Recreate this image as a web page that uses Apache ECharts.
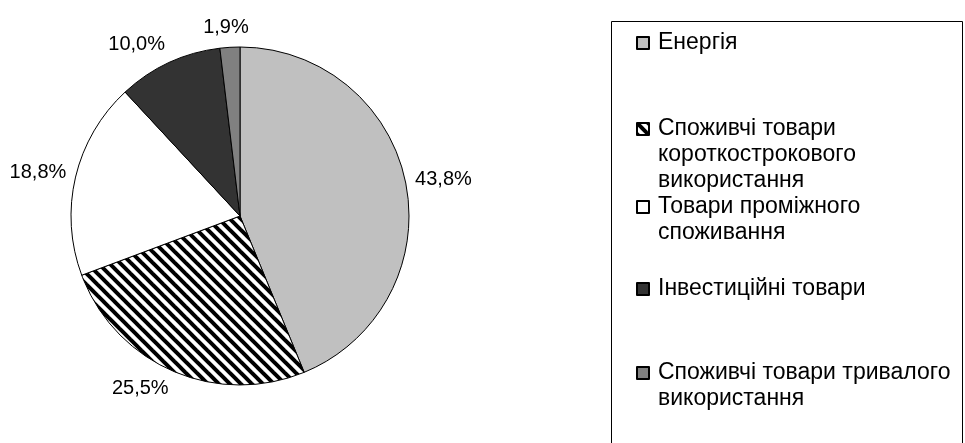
<!DOCTYPE html>
<html>
<head>
<meta charset="utf-8">
<script src="https://cdn.jsdelivr.net/npm/echarts@6/dist/echarts.min.js"></script>
<style>
html,body{margin:0;padding:0;background:#fff;}
#chart{width:965px;height:443px;}
</style>
</head>
<body>
<div id="chart"></div>
<script>
// ---- data ----
var categories = [
  'Енергія',
  'Споживчі товари короткострокового використання',
  'Товари проміжного споживання',
  'Інвестиційні товари',
  'Споживчі товари тривалого використання'
];
var shares = [43.8, 25.5, 18.8, 10.0, 1.9];
var legendLines = [
  ['Енергія'],
  ['Споживчі товари', 'короткострокового', 'використання'],
  ['Товари проміжного', 'споживання'],
  ['Інвестиційні товари'],
  ['Споживчі товари тривалого', 'використання']
];

// ---- styles ----
function makeHatch() {
  var T = 11;
  var c = document.createElement('canvas');
  c.width = T; c.height = T;
  var g = c.getContext('2d');
  g.fillStyle = '#fff';
  g.fillRect(0, 0, T, T);
  g.strokeStyle = '#000';
  g.lineWidth = 4;
  for (var k = -1; k <= 1; k++) {
    g.beginPath();
    g.moveTo(k * T - 2, -2);
    g.lineTo(k * T + T + 2, T + 2);
    g.stroke();
  }
  return c;
}
var fills = ['#c0c0c0', { image: makeHatch(), repeat: 'repeat' }, '#ffffff', '#333333', '#808080'];
var FONT = 'Liberation Sans, Arial, sans-serif';
var LH = 26;
var legendCenters = [43, 129, 207, 289, 373];
var LABEL_GAP = 9.5;

var seriesData = categories.map(function (name, i) {
  return { name: name, value: shares[i], itemStyle: { color: fills[i] } };
});

var legends = categories.map(function (name, i) {
  var n = legendLines[i].length;
  var pad = [];
  for (var j = 0; j < n - 1; j++) pad.push('');
  var total = 2 * n - 1;
  return {
    data: [name],
    orient: 'vertical',
    left: 636,
    top: legendCenters[i] - total * LH / 2,
    padding: 0,
    itemWidth: 12,
    itemHeight: 12,
    itemGap: 0,
    icon: 'rect',
    selectedMode: false,
    formatter: function () { return pad.concat(legendLines[i]).join('\n'); },
    textStyle: { fontSize: 23, lineHeight: LH, color: '#000', fontFamily: FONT, padding: [0, 0, 0, 4] }
  };
});

var chart = echarts.init(document.getElementById('chart'), null, { renderer: 'canvas' });

function placeLabel(params) {
  var data = chart.getModel().getSeriesByIndex(params.seriesIndex).getData();
  var L = data.getItemLayout(params.dataIndex);
  var mid = (L.startAngle + L.endAngle) / 2;
  var ux = Math.cos(mid), uy = Math.sin(mid);
  var px = L.cx + ux * (L.r + LABEL_GAP);
  var py = L.cy + uy * (L.r + LABEL_GAP);
  var w = params.labelRect.width, h = params.labelRect.height;
  var fx = Math.max(-1, Math.min(1, ux * 2.5));
  return {
    x: px + fx * w / 2,
    y: py + uy * h / 2,
    align: 'center',
    verticalAlign: 'middle'
  };
}

chart.setOption({
  backgroundColor: '#ffffff',
  animation: false,
  legend: legends,
  graphic: [{
    type: 'rect',
    shape: { x: 611.5, y: 21.5, width: 351, height: 460 },
    style: { fill: 'none', stroke: '#000', lineWidth: 1 },
    silent: true
  }],
  series: [{
    type: 'pie',
    center: [240, 216],
    radius: 169,
    startAngle: 90,
    clockwise: true,
    avoidLabelOverlap: false,
    emphasis: { disabled: true },
    itemStyle: { borderColor: '#000', borderWidth: 1 },
    label: {
      show: true,
      position: 'outside',
      fontSize: 20,
      color: '#000',
      fontFamily: FONT,
      formatter: function (p) { return p.value.toFixed(1).replace('.', ',') + '%'; }
    },
    labelLine: { show: false, length: 6, length2: 0 },
    labelLayout: placeLabel,
    data: seriesData
  }]
});
</script>
</body>
</html>
